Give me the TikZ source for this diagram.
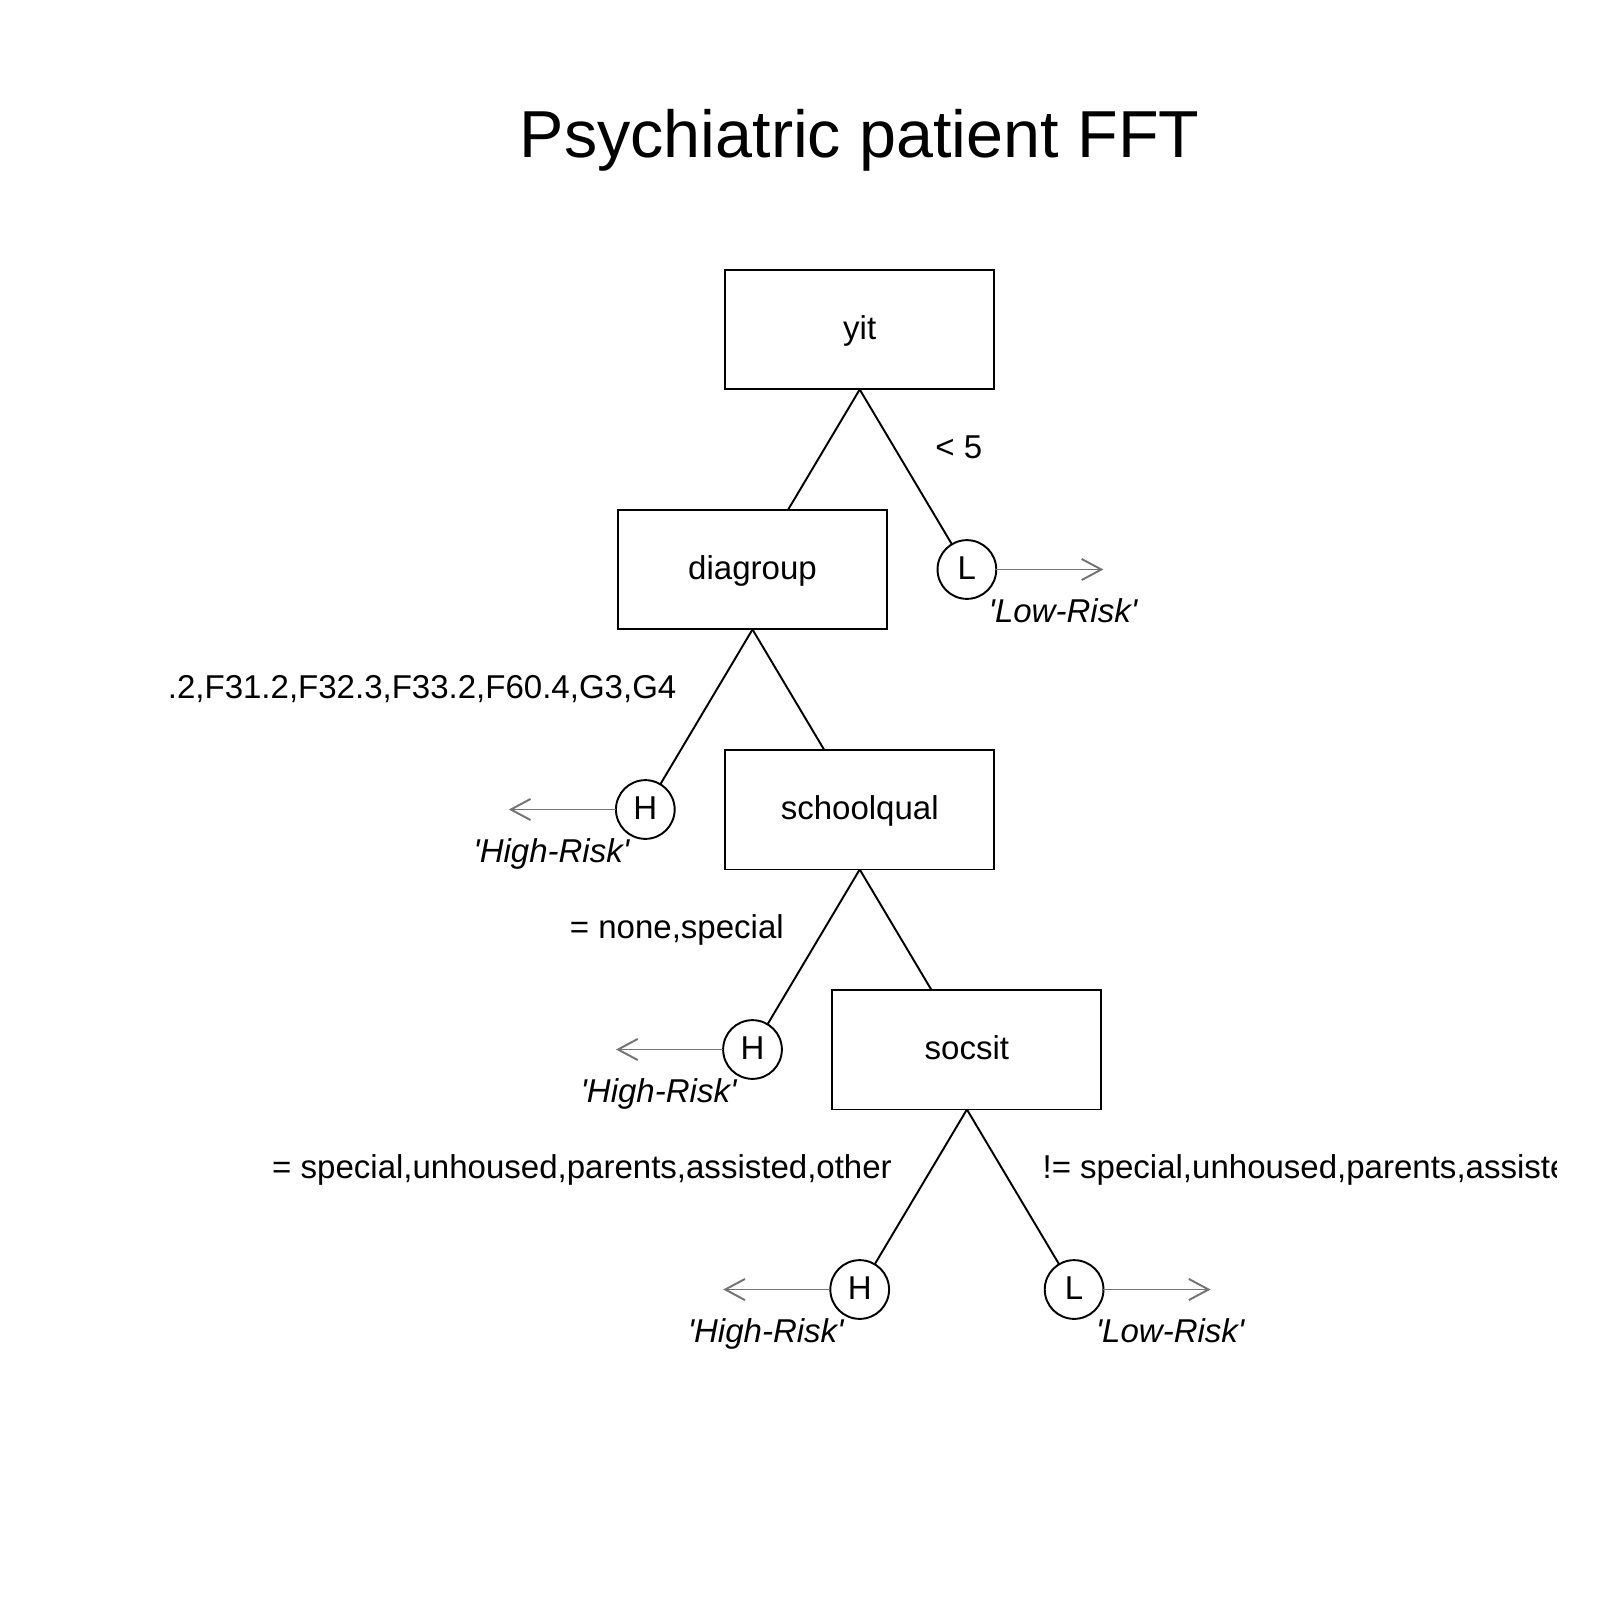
\documentclass[tikz,border=0pt]{standalone}
\usepackage{fontspec}
\setmainfont{Liberation Sans}
\usetikzlibrary{arrows.meta}
\definecolor{arrowgrey}{RGB}{115,115,115}
\begin{document}
\begin{tikzpicture}[x=0.01cm,y=-0.01cm,
  every node/.style={font=\fontsize{9.39}{11}\selectfont},
  cue/.style={draw=black, line width=0.55pt, minimum width=76.5pt, minimum height=34.1pt, inner sep=0pt, outer sep=0pt, text height=7.5pt, text depth=1.9pt},
  leaf/.style={draw=black, circle, line width=0.55pt, minimum size=16.7pt, inner sep=0pt, outer sep=0pt, text height=7.5pt, text depth=1.9pt},
  branch/.style={line width=0.55pt, draw=black},
  exitarrow/.style={draw=arrowgrey, line width=0.55pt, -{Straight Barb[length=5.6pt,width=6pt]}},
  cond/.style={inner sep=0pt},
  decision/.style={inner sep=0pt, font=\fontsize{9.39}{11}\selectfont\itshape},
]
\useasboundingbox (0,0) rectangle (1600,1600);

\node[anchor=base, inner sep=0pt, font=\fontsize{18.9}{22}\selectfont] (title) at (859.7,158) {Psychiatric patient FFT};

% cue boxes
\node[cue] (yit) at (859.7,329.5) {yit};
\node[cue] (diag) at (752.5,569.5) {diagroup};
\node[cue] (school) at (859.7,809.5) {schoolqual};
\node[cue] (socsit) at (966.9,1049.5) {socsit};

% exits
\node[leaf] (L1) at (966.9,569.5) {L};
\node[leaf] (H1) at (645.3,809.5) {H};
\node[leaf] (H2) at (752.5,1049.5) {H};
\node[leaf] (H3) at (859.7,1289.5) {H};
\node[leaf] (L2) at (1074.1,1289.5) {L};

% branches
\draw[branch] (yit.south) -- (diag);
\draw[branch] (yit.south) -- (L1);
\draw[branch] (diag.south) -- (H1);
\draw[branch] (diag.south) -- (school);
\draw[branch] (school.south) -- (H2);
\draw[branch] (school.south) -- (socsit);
\draw[branch] (socsit.south) -- (H3);
\draw[branch] (socsit.south) -- (L2);

% arrow ends
\coordinate (aL1) at (1103.4,569.5);
\coordinate (aH1) at (508.8,809.5);
\coordinate (aH2) at (616,1049.5);
\coordinate (aH3) at (723.2,1289.5);
\coordinate (aL2) at (1210.6,1289.5);
\draw[exitarrow] (L1.east) -- (aL1);
\draw[exitarrow] (H1.west) -- (aH1);
\draw[exitarrow] (H2.west) -- (aH2);
\draw[exitarrow] (H3.west) -- (aH3);
\draw[exitarrow] (L2.east) -- (aL2);

% decision labels
\node[decision, anchor=base] (dL1) at (1062.9,622.5) {\textquotesingle Low-Risk\textquotesingle};
\node[decision, anchor=base] (dH1) at (551.3,862.5) {\textquotesingle High-Risk\textquotesingle};
\node[decision, anchor=base] (dH2) at (658.5,1102.5) {\textquotesingle High-Risk\textquotesingle};
\node[decision, anchor=base] (dH3) at (765.7,1342.5) {\textquotesingle High-Risk\textquotesingle};
\node[decision, anchor=base] (dL2) at (1170.1,1342.5) {\textquotesingle Low-Risk\textquotesingle};

% branch conditions (clipped at the plot region, as in the reference)
\begin{scope}
\clip (165,0) rectangle (1556,1600);
\node[cond, anchor=base west] (c1) at (934.7,458.5) {< 5};
\node[cond, anchor=base east] (c2) at (677,698.5) {.2,F31.2,F32.3,F33.2,F60.4,G3,G4};
\node[cond, anchor=base east] (c3) at (784.5,938.5) {= none,special};
\node[cond, anchor=base east] (c4) at (892.5,1178.5) {= special,unhoused,parents,assisted,other};
\node[cond, anchor=base west] (c5) at (1041.9,1178.5) {!= special,unhoused,parents,assisted,other};
\end{scope}
\end{tikzpicture}
\end{document}
